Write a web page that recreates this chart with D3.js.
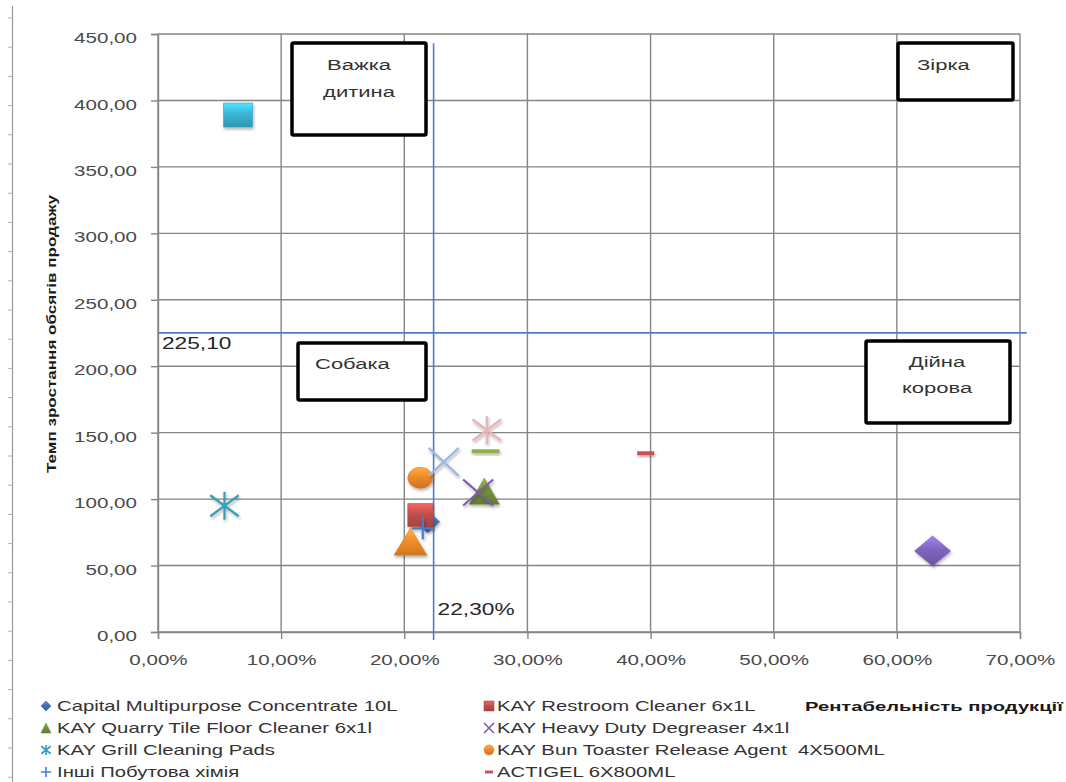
<!DOCTYPE html>
<html><head><meta charset="utf-8">
<script src="https://cdn.jsdelivr.net/npm/d3@7"></script>
<style>body{margin:0;background:#fff} svg{display:block;font-family:"Liberation Sans",Arial,sans-serif} text{white-space:pre}</style>
</head><body><svg id="c" width="1066" height="782"></svg>
<script>
// ---------- data ----------
const seriesNames = [
  "Capital Multipurpose Concentrate 10L",
  "KAY Restroom Cleaner 6x1L",
  "KAY Quarry Tile Floor Cleaner 6x1l",
  "KAY Heavy Duty Degreaser 4x1l",
  "KAY Grill Cleaning Pads",
  "KAY Bun Toaster Release Agent  4X500ML",
  "Інші Побутова хімія",
  "ACTIGEL 6X800ML",
  "", "", "", "", "", ""
];
const profitability = [21.9, 21.3, 26.5, 26.0, 5.4, 21.3, 21.5, 39.6, 62.9, 6.5, 20.5, 23.2, 26.7, 26.6];
const growthRate    = [83, 88, 106, 105, 95, 116, 78, 134.5, 61, 389, 68, 128, 152, 136];
const xTickValues = [0, 10, 20, 30, 40, 50, 60, 70];
const yTickValues = [0, 50, 100, 150, 200, 250, 300, 350, 400, 450];
const thresholdX = 22.3;
const thresholdY = 225.1;
const thresholdXLabel = "22,30%";
const thresholdYLabel = "225,10";
const quadrantLabels = [["Важка", "дитина"], ["Зірка"], ["Собака"], ["Дійна", "корова"]];
const yTitle = "Темп зростання обсягів продажу";
const xTitle = "Рентабельність продукції";

// ---------- styles ----------
const markerShape = ["diamond","square","triangle","x","star","circle","plus","dash",
                     "diamond","square","triangle","x","star","dash"];
const markerColor = ["#4A6FB5","#C0504D","#77933C","#7D5BA6","#31A0B8","#F08A2C","#3F7FD0","#D05050",
                     "#8064C0","#3BB4D6","#F58E2A","#9DB8E0","#E8B4B4","#8DB04E"];
const markerSize = [[24,22],[25,23],[30,26],[30,26],[30,28],[25,21],[22,22],[17,4],
                    [36,30],[29,24],[33,27],[30,28],[30,28],[28,4]];
const HS = 1.42; // horizontal text stretch

const svg = d3.select("#c");
const defs = svg.append("defs");
const sh = defs.append("filter").attr("id","sh").attr("x","-50%").attr("y","-50%").attr("width","200%").attr("height","200%");
sh.append("feDropShadow").attr("dx",1).attr("dy",2).attr("stdDeviation",1.5).attr("flood-color","#000").attr("flood-opacity",0.3);

markerColor.forEach((c,i)=>{
  const g = defs.append("linearGradient").attr("id","g"+i).attr("x1",0).attr("y1",0).attr("x2",0).attr("y2",1);
  g.append("stop").attr("offset","0%").attr("stop-color", d3.color(c).brighter(0.7));
  g.append("stop").attr("offset","45%").attr("stop-color", c);
  g.append("stop").attr("offset","100%").attr("stop-color", d3.color(c).darker(0.5));
});

const x = d3.scaleLinear().domain([0,70]).range([158,1020]);
const y = d3.scaleLinear().domain([0,450]).range([632,34]);

const loc = d3.formatLocale({decimal:",", thousands:" ", grouping:[3], currency:["",""]});
const f2 = loc.format(".2f");

function stretch(sel, k, rot) {
  sel.each(function(){
    const t = d3.select(this);
    const tx = +t.attr("x") || 0, ty = +t.attr("y") || 0;
    t.attr("x",0).attr("y",0).attr("transform",`translate(${tx},${ty})${rot?` rotate(${rot})`:""} scale(${k},1)`);
  });
}
function fit(sel, target, rot) {
  const w = sel.node().getComputedTextLength();
  stretch(sel, target / w, rot);
}

// left ruler decoration
svg.append("line").attr("x1",12.5).attr("x2",12.5).attr("y1",6).attr("y2",782).attr("stroke","#9a9a9a").attr("stroke-width",1.2);
svg.append("g").selectAll("line").data(d3.range(18, 782, 29.2)).join("line")
  .attr("x1",8).attr("x2",12.5).attr("y1",d=>d).attr("y2",d=>d).attr("stroke","#b0b0b0").attr("stroke-width",1);

// gridlines
const grid = svg.append("g").attr("stroke","#858585").attr("stroke-width",1.4);
grid.selectAll(".gx").data(xTickValues).join("line")
  .attr("x1",d=>x(d)).attr("x2",d=>x(d)).attr("y1",y(0)).attr("y2",y(450));
grid.selectAll(".gy").data(yTickValues).join("line")
  .attr("x1",x(0)).attr("x2",x(70)).attr("y1",d=>y(d)).attr("y2",d=>y(d));

// axes
const ya = svg.append("g").attr("transform",`translate(${x(0)},0)`)
  .call(d3.axisLeft(y).tickValues(yTickValues).tickSize(7).tickPadding(14).tickFormat(f2));
const xa = svg.append("g").attr("transform",`translate(0,${y(0)})`)
  .call(d3.axisBottom(x).tickValues(xTickValues).tickSize(7).tickPadding(16).tickFormat(d=>f2(d)+"%"));
[ya, xa].forEach(a=>{
  a.select(".domain").attr("stroke","#858585").attr("stroke-width",1.4);
  a.selectAll(".tick line").attr("stroke","#858585").attr("stroke-width",1.4);
  a.selectAll("text").attr("font-size","14.5px").attr("fill","#4a4a4a").attr("font-family","Liberation Sans, Arial, sans-serif");
});
ya.selectAll("text").attr("y",4);
stretch(ya.selectAll("text"), HS);
stretch(xa.selectAll("text"), HS);

// threshold lines
const thr = svg.append("g").attr("stroke","#4A7EC9").attr("stroke-width",1.6);
thr.append("line").attr("x1",x(thresholdX)+1).attr("x2",x(thresholdX)+1).attr("y1",y(443)).attr("y2",y(-6));
thr.append("line").attr("x1",x(0)).attr("x2",x(70.55)).attr("y1",y(thresholdY)).attr("y2",y(thresholdY));
stretch(svg.append("text").attr("x",x(0)+4).attr("y",y(thresholdY)+16).attr("font-size","16px").attr("fill","#262626").text(thresholdYLabel), HS);
stretch(svg.append("text").attr("x",x(thresholdX)+5).attr("y",y(0)-17).attr("font-size","16px").attr("fill","#262626").text(thresholdXLabel), HS);

// quadrant boxes
const boxes = [
  {x0:292,y0:43,x1:426,y1:135, tx:359, ty:[70,97], anchor:"middle"},
  {x0:898,y0:43,x1:1013,y1:100, tx:917, ty:[70], anchor:"start"},
  {x0:298,y0:343,x1:426,y1:400, tx:315, ty:[369], anchor:"start"},
  {x0:866,y0:341,x1:1010,y1:423, tx:937, ty:[367,393], anchor:"middle"}
];
boxes.forEach((b,i)=>{
  svg.append("rect").attr("x",b.x0).attr("y",b.y0).attr("width",b.x1-b.x0).attr("height",b.y1-b.y0)
    .attr("fill","#fff").attr("stroke","#000").attr("stroke-width",3.5).attr("rx",1.5);
  quadrantLabels[i].forEach((t,j)=>{
    stretch(svg.append("text").attr("x",b.tx).attr("y",b.ty[j]).attr("text-anchor",b.anchor)
      .attr("font-size","15.5px").attr("fill","#333").text(t), HS);
  });
});

// marker path generator
function markerPath(shape, w, h) {
  const a = w/2, b = h/2;
  switch(shape){
    case "diamond": return `M0,${-b}L${a},0L0,${b}L${-a},0Z`;
    case "square": return `M${-a},${-b}H${a}V${b}H${-a}Z`;
    case "triangle": return `M0,${-b}L${a},${b}H${-a}Z`;
    case "circle": return `M${-a},0A${a},${b} 0 1,0 ${a},0A${a},${b} 0 1,0 ${-a},0Z`;
    case "x": return `M${-a},${-b}L${a},${b}M${-a},${b}L${a},${-b}`;
    case "star": return `M0,${-b}V${b}M${-a*0.95},${-b*0.75}L${a*0.95},${b*0.75}M${-a*0.95},${b*0.75}L${a*0.95},${-b*0.75}`;
    case "plus": return `M${-a},0H${a}M0,${-b}V${b}`;
    case "dash": return `M${-a},${-b}H${a}V${b}H${-a}Z`;
  }
}
const lineShapes = new Set(["x","star","plus"]);

function drawMarker(g, i, w, h, shadow) {
  const s = markerShape[i];
  const p = g.append("path").attr("d", markerPath(s, w, h));
  if (lineShapes.has(s)) {
    p.attr("fill","none").attr("stroke", markerColor[i]).attr("stroke-width", w>15?2.2:1.6);
  } else if (s === "dash") {
    p.attr("fill", markerColor[i]);
  } else {
    p.attr("fill", `url(#g${i})`).attr("stroke", d3.color(markerColor[i]).darker(0.3)).attr("stroke-width",0.6);
  }
  if (shadow) p.attr("filter","url(#sh)");
}

const pts = d3.range(profitability.length);
const mg = svg.append("g");
pts.forEach(i=>{
  const g = mg.append("g").attr("transform",`translate(${x(profitability[i])},${y(growthRate[i])})`);
  drawMarker(g, i, markerSize[i][0], markerSize[i][1], true);
});

// legend
const legendItems = seriesNames.map((n,i)=>({n,i})).filter(d=>d.n);
const lg = svg.append("g");
legendItems.forEach((d,k)=>{
  const col = k % 2, row = Math.floor(k / 2);
  const lx = col ? 489 : 46, ly = 706 + row*22;
  const g = lg.append("g").attr("transform",`translate(${lx},${ly})`);
  const s = markerShape[d.i];
  const sz = s === "dash" ? [8,3] : [10,10];
  drawMarker(g, d.i, sz[0], sz[1], false);
  stretch(lg.append("text").attr("x", lx + (col ? 8 : 11)).attr("y", ly + 5)
    .attr("font-size","14px").attr("fill","#333").text(d.n), 1.45);
});

// axis titles
fit(svg.append("text").attr("x",805).attr("y",711).attr("font-size","13px").attr("font-weight","bold").attr("fill","#1a1a1a").text(xTitle), 258);
const yt = svg.append("text").attr("x",56).attr("y",334).attr("text-anchor","middle")
  .attr("font-size","12.5px").attr("font-weight","bold").attr("fill","#1a1a1a").text(yTitle);
fit(yt, 278, -90);
</script></body></html>
